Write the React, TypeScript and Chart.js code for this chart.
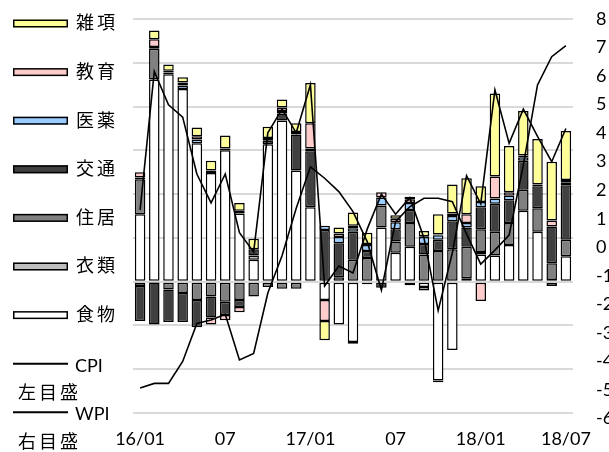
import React, { useEffect, useRef } from "react";
import { Chart, registerables } from "chart.js";

Chart.register(...registerables);

// ---- categories (months 2016/01 .. 2018/07) ----
const months = [
  "16/01", "16/02", "16/03", "16/04", "16/05", "16/06", "16/07", "16/08", "16/09", "16/10", "16/11", "16/12",
  "17/01", "17/02", "17/03", "17/04", "17/05", "17/06", "17/07", "17/08", "17/09", "17/10", "17/11", "17/12",
  "18/01", "18/02", "18/03", "18/04", "18/05", "18/06", "18/07",
];
const xTickLabels = [
  "16/01", "", "", "", "", "", "07", "", "", "", "", "",
  "17/01", "", "", "", "", "", "07", "", "", "", "", "",
  "18/01", "", "", "", "", "", "18/07",
];

// ---- contributions to CPI (left scale, %) ----
const food = [0.77, 2.31, 2.37, 2.2, 1.58, 1.24, 1.5, 0.78, 0.25, 1.57, 1.84, 1.27, 0.85, -0.21, -0.49, -0.69, -0.03, 0.62, 0.33, 0.4, -0.06, -1.13, -0.78, 0.02, 0.31, 0.3, 0.42, 0.81, 0.57, 0.02, 0.29];
const clothing = [-0.05, -0.01, 0, 0, 0, 0, 0, 0, 0.05, 0, 0, 0, 0, 0, 0, -0.02, 0, 0, 0, -0.04, -0.04, -0.02, 0, 0.02, 0.03, 0, 0, 0, 0, -0.05, 0];
const housing = [0.4, 0.35, -0.09, -0.13, -0.21, -0.17, -0.23, -0.21, -0.17, -0.06, -0.08, -0.08, 0, 0, 0.05, 0.25, 0.27, 0.25, 0.13, 0.27, 0.31, 0.35, 0.37, 0.36, 0.26, 0.27, 0.25, 0.24, 0.27, 0.19, 0.19];
const transport = [-0.4, -0.48, -0.37, -0.33, -0.31, -0.24, -0.15, -0.08, 0.07, 0.04, 0.08, 0.41, 0.64, 0.59, 0.39, 0.32, 0.08, -0.07, 0.14, 0.15, 0.12, 0.13, 0.32, 0.22, 0.25, 0.32, 0.26, 0.33, 0.25, 0.42, 0.62];
const medical = [0.02, 0.02, 0.02, 0.04, 0.045, 0.03, 0.02, 0.03, 0, 0.03, 0.03, 0, 0.03, 0.05, 0.07, 0.04, 0.07, 0.09, 0.08, 0.08, 0.08, 0.05, 0.06, 0.05, 0.06, 0.06, 0.05, 0.04, 0.02, 0, 0.03];
const education = [0.06, 0.09, 0.02, 0.035, 0.035, -0.08, -0.06, -0.06, 0, 0, 0.04, 0.03, 0.29, -0.24, 0.04, 0.03, 0.01, 0.06, 0.04, 0.04, 0.01, 0.01, 0.03, 0.1, -0.22, 0.25, 0.04, 0.02, 0, 0.07, 0.03];
const misc = [0, 0.1, 0.07, 0.06, 0.1, 0.11, 0.15, 0.09, 0.12, 0.13, 0.09, 0.1, 0.46, -0.22, 0.07, 0.15, 0.13, 0, 0.04, 0.03, 0.06, 0.23, 0.33, 0.41, 0.18, 0.95, 0.53, 0.51, 0.52, 0.67, 0.56];

// ---- lines ----
const cpi = [0.82, 2.4, 2.02, 1.88, 1.23, 0.9, 1.23, 0.56, 0.34, 1.7, 1.97, 1.7, 2.25, -0.05, 0.18, 0.1, 0.6, 1.0, 0.77, 0.96, 0.5, -0.33, 0.33, 1.21, 0.89, 2.19, 1.58, 1.97, 1.66, 1.37, 1.75];
const wpi = [-4.93, -4.77, -4.77, -4.0, -2.67, -2.55, -2.35, -3.95, -3.72, -1.6, -0.3, 1.37, 2.82, 2.42, 1.95, 1.25, 0.2, -1.5, 0.9, 1.42, 1.72, 1.72, 1.6, 0.47, -0.59, -0.1, 0.43, 2.88, 5.69, 6.68, 7.07];

// ---- labels ----
const barLabels = ["食物", "衣類", "住居", "交通", "医薬", "教育", "雑項"];
const lineLabels = ["CPI", "WPI"];
const lineSubLabels = ["左目盛", "右目盛"];

const LEFT_MAX = 3;
const LEFT_MIN = -1.5626;
const RIGHT_MIN = -6;
const RIGHT_MAX = 8;

const barData = [food, clothing, housing, transport, medical, education, misc];
const barColors = ["#ffffff", "#bfbfbf", "#808080", "#404040", "#99ccff", "#ffcccc", "#ffff99"];

const LATIN = "Lato, 'DejaVu Sans', sans-serif";
const CJK = "'Noto Sans CJK JP', sans-serif";

const sideLegend = {
  id: "sideLegend",
  afterDraw(chart: any) {
    const ctx = chart.ctx as CanvasRenderingContext2D;
    ctx.save();
    const rowStart = 23.5;
    const rowGap = 48.6;
    const order = barLabels.map((_, i) => i).reverse();
    order.forEach((idx, row) => {
      const cy = rowStart + row * rowGap;
      ctx.fillStyle = barColors[idx];
      ctx.fillRect(13, cy - 4, 55, 8);
      ctx.strokeStyle = "#000";
      ctx.lineWidth = 1.5;
      ctx.strokeRect(13.75, cy - 3.25, 53.5, 6.5);
      ctx.fillStyle = "#000";
      ctx.font = `18px ${CJK}`;
      (ctx as any).letterSpacing = "3px";
      ctx.textBaseline = "middle";
      ctx.textAlign = "left";
      ctx.fillText(barLabels[idx], 76, cy - 1);
    });
    lineLabels.forEach((lab, k) => {
      const cy = rowStart + (barLabels.length + k) * rowGap;
      ctx.strokeStyle = "#000";
      ctx.lineWidth = 2;
      ctx.beginPath();
      ctx.moveTo(13, cy);
      ctx.lineTo(68, cy);
      ctx.stroke();
      ctx.fillStyle = "#000";
      (ctx as any).letterSpacing = "0px";
      ctx.font = `18px ${LATIN}`;
      ctx.textBaseline = "middle";
      ctx.fillText(lab, 75, cy + 2);
      (ctx as any).letterSpacing = "3px";
      ctx.font = `18px ${CJK}`;
      ctx.fillText(lineSubLabels[k], 18, cy + 28.5);
    });
    (ctx as any).letterSpacing = "0px";
    ctx.restore();
  },
};

export default function App() {
  const ref = useRef<HTMLCanvasElement | null>(null);

  useEffect(() => {
    if (!ref.current) return;
    const barSets = barLabels.map((label, i) => ({
      type: "bar" as const,
      label,
      data: barData[i],
      backgroundColor: barColors[i],
      borderColor: "#000",
      borderWidth: 1.5,
      borderSkipped: false,
      yAxisID: "y",
      stack: "cpi",
      order: 1,
      barPercentage: 0.74,
      categoryPercentage: 1.0,
    }));
    const chart = new Chart(ref.current, {
      type: "bar",
      data: {
        labels: months,
        datasets: [
          ...barSets,
          {
            type: "line",
            label: lineLabels[0],
            data: cpi,
            yAxisID: "yc",
            borderColor: "#000",
            borderWidth: 1.6,
            pointRadius: 0,
            tension: 0,
            fill: false,
            order: 0,
          },
          {
            type: "line",
            label: lineLabels[1],
            data: wpi,
            yAxisID: "y2",
            borderColor: "#000",
            borderWidth: 1.6,
            pointRadius: 0,
            tension: 0,
            fill: false,
            order: 0,
          },
        ] as any,
      },
      options: {
        animation: false,
        responsive: false,
        maintainAspectRatio: false,
        layout: { padding: { left: 133, top: 19, right: 0, bottom: 0 } },
        plugins: { legend: { display: false }, tooltip: { enabled: false } },
        scales: {
          x: {
            stacked: true,
            offset: true,
            grid: { display: false, drawTicks: false },
            border: { display: false },
            ticks: {
              autoSkip: false,
              maxRotation: 0,
              minRotation: 0,
              padding: 10,
              color: "#000",
              font: { family: LATIN, size: 18 },
              callback: (_v: any, i: number) => xTickLabels[i],
            },
            afterFit: (s: any) => {
              s.height = 33.5;
            },
          },
          y: {
            stacked: true,
            position: "left",
            min: LEFT_MIN,
            max: LEFT_MAX,
            grid: { color: "#d9d9d9", lineWidth: 2, drawTicks: false },
            border: { display: false },
            ticks: { display: false, stepSize: 0.5, includeBounds: false },
            afterFit: (s: any) => {
              s.width = 0;
              s.paddingTop = 0;
              s.paddingBottom = 0;
            },
          },
          yc: {
            display: false,
            position: "left",
            min: LEFT_MIN,
            max: LEFT_MAX,
          },
          y2: {
            position: "right",
            min: RIGHT_MIN,
            max: RIGHT_MAX,
            grid: { display: false, drawTicks: false },
            border: { display: false },
            ticks: {
              stepSize: 1,
              padding: 23,
              color: "#000",
              font: { family: LATIN, size: 18 },
            },
            afterFit: (s: any) => {
              s.width = 36;
              s.paddingTop = 0;
              s.paddingBottom = 0;
            },
          },
        },
      } as any,
      plugins: [sideLegend],
    });
    return () => chart.destroy();
  }, []);

  return (
    <div style={{ position: "fixed", left: 0, top: 0, width: 609, height: 452, background: "#fff" }}>
      <canvas ref={ref} width={609} height={452} style={{ display: "block" }} />
    </div>
  );
}
